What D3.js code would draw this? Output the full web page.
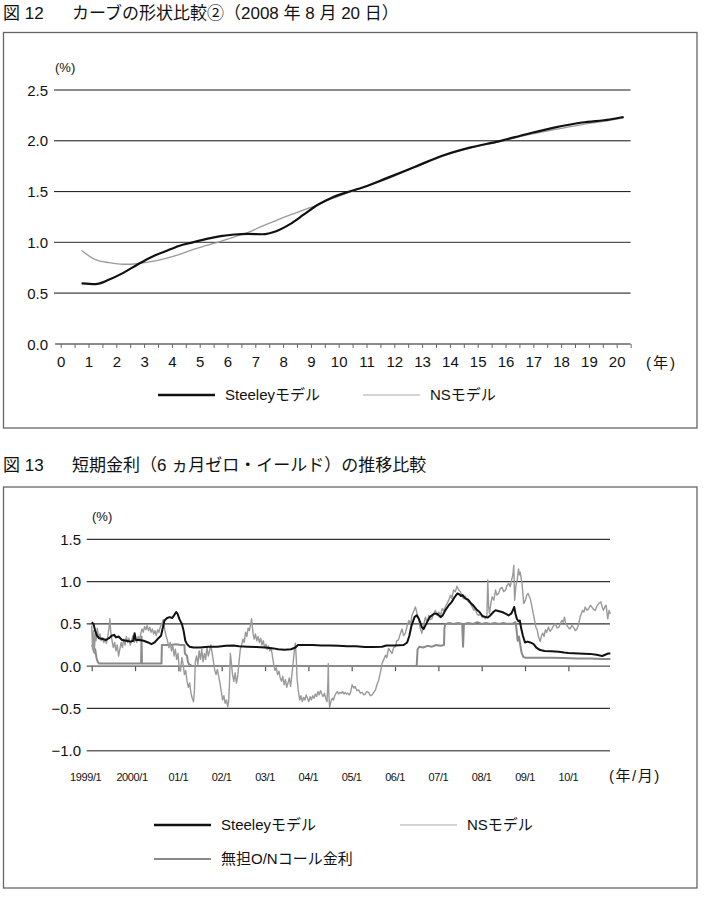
<!DOCTYPE html>
<html><head><meta charset="utf-8">
<script src="https://cdn.jsdelivr.net/npm/d3@7"></script>
<style>body{margin:0;background:#fff} svg{display:block}</style>
</head><body><svg id="c" width="704" height="903"></svg>
<script>
// ---------------- Chart 1 data (図12) ----------------
const tenors = [0.75,1.25,1.75,2.25,2.75,3.25,3.75,4.25,4.75,5.25,5.75,6.25,6.75,7.25,7.75,8.25,8.75,9.25,9.75,10.25,10.75,11.75,12.75,13.75,14.75,15.75,16.75,17.75,18.75,19.75,20.25];
const steeleyCurve = [0.597,0.59,0.635,0.70,0.78,0.855,0.91,0.965,1.0,1.035,1.062,1.078,1.083,1.08,1.11,1.18,1.275,1.37,1.44,1.49,1.53,1.635,1.745,1.855,1.935,1.995,2.065,2.13,2.18,2.21,2.234];
const nsCurve      = [0.92,0.83,0.80,0.785,0.79,0.81,0.84,0.88,0.93,0.97,1.01,1.055,1.10,1.16,1.215,1.27,1.32,1.37,1.43,1.48,1.53,1.625,1.74,1.85,1.93,1.99,2.055,2.11,2.16,2.20,2.225];
const yTicks1 = [0,0.5,1,1.5,2,2.5];
const xTicks1 = d3.range(0,20.51,0.5);

// ---------------- Chart 2 data (図13) ----------------
const dateTicks = [1999,2000,2001,2002,2003,2004,2005,2006,2007,2008,2009,2010];
const dateTickLabels = ["1999/1","2000/1","01/1","02/1","03/1","04/1","05/1","06/1","07/1","08/1","09/1","10/1"];
const yTicks2 = [-1,-0.5,0,0.5,1,1.5];

const steeleyShort = [[1999.00,0.52],[1999.04,0.50],[1999.08,0.42],[1999.12,0.36],[1999.17,0.33],[1999.25,0.32],[1999.33,0.31],[1999.40,0.33],[1999.46,0.36],[1999.52,0.37],[1999.56,0.34],[1999.62,0.35],[1999.70,0.31],[1999.80,0.30],[1999.90,0.29],[1999.96,0.30],[1999.99,0.39],[2000.02,0.31],[2000.10,0.31],[2000.20,0.30],[2000.30,0.28],[2000.38,0.26],[2000.45,0.28],[2000.52,0.32],[2000.60,0.36],[2000.64,0.45],[2000.68,0.54],[2000.74,0.57],[2000.80,0.58],[2000.86,0.57],[2000.90,0.60],[2000.95,0.64],[2000.98,0.62],[2001.03,0.55],[2001.08,0.50],[2001.12,0.42],[2001.16,0.30],[2001.20,0.26],[2001.26,0.23],[2001.35,0.22],[2001.50,0.22],[2001.70,0.23],[2001.90,0.23],[2002.10,0.24],[2002.27,0.245],[2002.40,0.235],[2002.60,0.23],[2002.80,0.225],[2003.00,0.22],[2003.20,0.21],[2003.30,0.20],[2003.45,0.195],[2003.60,0.20],[2003.70,0.22],[2003.76,0.25],[2003.90,0.25],[2004.10,0.25],[2004.30,0.245],[2004.50,0.245],[2004.70,0.24],[2004.90,0.235],[2005.10,0.235],[2005.30,0.225],[2005.50,0.225],[2005.70,0.23],[2005.80,0.245],[2006.00,0.245],[2006.20,0.25],[2006.28,0.28],[2006.33,0.36],[2006.38,0.48],[2006.45,0.58],[2006.50,0.60],[2006.55,0.56],[2006.62,0.46],[2006.66,0.44],[2006.72,0.50],[2006.80,0.58],[2006.90,0.62],[2006.97,0.62],[2007.05,0.58],[2007.10,0.60],[2007.16,0.66],[2007.24,0.72],[2007.31,0.76],[2007.38,0.82],[2007.44,0.86],[2007.48,0.85],[2007.52,0.83],[2007.56,0.84],[2007.62,0.80],[2007.68,0.79],[2007.74,0.75],[2007.80,0.72],[2007.88,0.67],[2007.95,0.64],[2008.02,0.59],[2008.09,0.58],[2008.14,0.575],[2008.20,0.60],[2008.27,0.64],[2008.32,0.66],[2008.40,0.65],[2008.47,0.64],[2008.55,0.62],[2008.62,0.60],[2008.68,0.62],[2008.72,0.66],[2008.75,0.70],[2008.78,0.62],[2008.81,0.56],[2008.85,0.53],[2008.88,0.54],[2008.91,0.45],[2008.95,0.36],[2009.00,0.28],[2009.06,0.29],[2009.12,0.28],[2009.20,0.26],[2009.26,0.22],[2009.35,0.19],[2009.45,0.18],[2009.60,0.175],[2009.78,0.17],[2009.90,0.16],[2010.00,0.155],[2010.24,0.15],[2010.50,0.145],[2010.65,0.135],[2010.78,0.12],[2010.85,0.135],[2010.92,0.15],[2010.97,0.15]];

const nsShort = [[1999.00,0.48],[1999.02,0.20],[1999.04,0.42],[1999.06,0.15],[1999.08,0.38],[1999.10,0.30],[1999.13,0.45],[1999.16,0.33],[1999.19,0.38],[1999.22,0.30],[1999.25,0.34],[1999.28,0.28],[1999.31,0.32],[1999.34,0.27],[1999.37,0.35],[1999.40,0.45],[1999.42,0.56],[1999.44,0.40],[1999.47,0.30],[1999.50,0.22],[1999.53,0.28],[1999.56,0.18],[1999.59,0.25],[1999.62,0.12],[1999.65,0.20],[1999.68,0.28],[1999.71,0.22],[1999.74,0.32],[1999.77,0.25],[1999.80,0.35],[1999.83,0.28],[1999.86,0.33],[1999.89,0.25],[1999.92,0.30],[1999.95,0.36],[1999.98,0.28],[2000.01,0.33],[2000.04,0.28],[2000.07,0.35],[2000.10,0.30],[2000.13,0.38],[2000.16,0.44],[2000.19,0.40],[2000.22,0.47],[2000.25,0.43],[2000.28,0.48],[2000.31,0.42],[2000.34,0.46],[2000.37,0.40],[2000.40,0.44],[2000.43,0.38],[2000.46,0.42],[2000.49,0.36],[2000.52,0.43],[2000.55,0.40],[2000.58,0.46],
[2000.62,0.50],[2000.65,0.55],[2000.69,0.42],[2000.72,0.35],[2000.75,0.30],[2000.78,0.22],[2000.81,0.28],[2000.84,0.18],[2000.87,0.25],[2000.90,0.12],[2000.93,0.20],[2000.96,0.08],[2000.99,0.15],[2001.02,-0.02],[2001.05,-0.06],[2001.08,0.10],[2001.11,0.02],[2001.14,-0.10],[2001.17,-0.05],[2001.20,-0.18],[2001.23,-0.25],[2001.26,-0.20],[2001.29,-0.32],[2001.32,-0.38],[2001.35,-0.42],[2001.37,-0.30],[2001.39,0.05],[2001.42,0.12],[2001.45,0.02],[2001.48,0.18],[2001.51,0.08],[2001.54,0.20],[2001.57,0.05],[2001.60,0.15],[2001.63,0.08],[2001.66,0.22],[2001.69,0.12],[2001.72,0.18],[2001.75,0.25],[2001.78,0.15],[2001.81,0.05],[2001.84,-0.05],[2001.87,-0.10],[2001.90,-0.04],[2001.93,-0.12],[2001.96,-0.20],[2001.99,-0.30],[2002.02,-0.40],[2002.05,-0.35],[2002.08,-0.44],[2002.11,-0.40],[2002.14,-0.48],[2002.16,-0.42],[2002.18,-0.20],[2002.20,0.15],[2002.22,0.05],[2002.25,-0.10],[2002.28,-0.18],[2002.31,-0.08],[2002.34,-0.20],[2002.37,-0.12],[2002.40,0.05],[2002.43,0.20],[2002.46,0.25],[2002.49,0.32],[2002.52,0.28],[2002.55,0.40],[2002.58,0.35],[2002.61,0.45],[2002.64,0.42],[2002.67,0.50],[2002.69,0.56],[2002.72,0.40],[2002.75,0.32],[2002.78,0.38],[2002.81,0.30],[2002.84,0.35],[2002.87,0.28],[2002.90,0.33],[2002.93,0.25],[2002.96,0.30],[2002.99,0.22],[2003.02,0.26],[2003.05,0.20],[2003.08,0.24],[2003.11,0.18],[2003.14,0.22],[2003.17,0.12],[2003.20,0.02],[2003.23,-0.05],[2003.26,-0.02],[2003.29,-0.10],[2003.32,-0.06],[2003.35,-0.14],[2003.38,-0.18],[2003.41,-0.12],[2003.44,-0.22],[2003.47,-0.16],[2003.50,-0.25],[2003.53,-0.20],[2003.56,-0.14],[2003.59,-0.24],[2003.62,-0.10],[2003.65,0.05],[2003.68,0.20],[2003.70,0.27],[2003.72,0.10],[2003.74,-0.15],[2003.77,-0.30],[2003.80,-0.40],[2003.83,-0.35],[2003.86,-0.42],[2003.89,-0.37],[2003.92,-0.40],[2003.95,-0.34],[2003.98,-0.38],[2004.01,-0.42],[2004.04,-0.36],[2004.07,-0.40],[2004.10,-0.35],[2004.13,-0.38],[2004.16,-0.33],[2004.19,-0.36],[2004.22,-0.30],[2004.25,-0.34],[2004.28,-0.29],[2004.31,-0.33],[2004.34,-0.36],[2004.37,-0.32],[2004.40,-0.38],[2004.43,-0.42],[2004.45,-0.20],[2004.46,0.03],[2004.47,-0.30],[2004.49,-0.49],[2004.52,-0.42],[2004.55,-0.38],[2004.58,-0.40],[2004.61,-0.35],[2004.64,-0.32],[2004.67,-0.30],[2004.70,-0.33],[2004.73,-0.31],[2004.76,-0.32],[2004.79,-0.30],[2004.82,-0.33],[2004.85,-0.31],[2004.88,-0.33],[2004.91,-0.32],[2004.94,-0.34],[2004.97,-0.32],
[2005.01,-0.22],[2005.05,-0.26],[2005.08,-0.24],[2005.12,-0.29],[2005.16,-0.28],[2005.20,-0.32],[2005.24,-0.31],[2005.28,-0.34],[2005.31,-0.33],[2005.35,-0.30],[2005.39,-0.31],[2005.43,-0.35],[2005.47,-0.34],[2005.51,-0.31],[2005.55,-0.28],[2005.58,-0.22],[2005.62,-0.17],[2005.66,-0.08],[2005.70,0.03],[2005.74,0.08],[2005.78,0.13],[2005.81,0.10],[2005.85,0.21],[2005.89,0.18],[2005.93,0.15],[2005.97,0.22],[2006.01,0.23],[2006.04,0.30],[2006.08,0.31],[2006.12,0.38],[2006.16,0.44],[2006.20,0.36],[2006.24,0.39],[2006.28,0.48],[2006.32,0.54],[2006.36,0.50],[2006.39,0.60],[2006.43,0.65],[2006.47,0.70],[2006.51,0.62],[2006.55,0.54],[2006.58,0.45],[2006.62,0.39],[2006.66,0.48],[2006.70,0.58],[2006.74,0.52],[2006.78,0.60],[2006.81,0.55],[2006.85,0.56],[2006.89,0.62],[2006.93,0.66],[2006.97,0.60],[2007.01,0.64],[2007.05,0.60],[2007.09,0.68],[2007.12,0.66],[2007.16,0.70],[2007.20,0.74],[2007.24,0.78],[2007.28,0.84],[2007.31,0.80],[2007.35,0.90],[2007.39,0.88],[2007.43,0.945],[2007.47,0.90],[2007.51,0.88],[2007.55,0.82],[2007.58,0.80],[2007.62,0.83],[2007.66,0.78],[2007.70,0.76],[2007.74,0.74],[2007.78,0.70],[2007.82,0.66],[2007.85,0.68],[2007.89,0.62],[2007.93,0.60],[2007.97,0.62],[2008.01,0.58],[2008.05,0.60],[2008.08,0.56],[2008.12,0.60],[2008.14,1.02],[2008.16,0.70],[2008.18,0.62],[2008.21,0.74],[2008.24,0.82],[2008.28,0.78],[2008.32,0.90],[2008.35,0.84],[2008.39,0.86],[2008.43,0.92],[2008.47,0.93],[2008.51,0.88],[2008.55,0.90],[2008.58,0.95],[2008.62,0.98],[2008.66,0.94],[2008.69,1.02],[2008.72,1.08],[2008.74,1.19],[2008.76,0.78],[2008.79,0.95],[2008.82,1.02],[2008.85,1.15],[2008.87,1.08],[2008.89,1.11],[2008.93,0.98],[2008.97,0.74],[2009.01,0.78],[2009.04,0.84],[2009.07,0.86],[2009.10,0.82],[2009.12,0.80],[2009.16,0.70],[2009.19,0.62],[2009.22,0.54],[2009.25,0.46],[2009.28,0.43],[2009.31,0.35],[2009.35,0.29],[2009.38,0.36],[2009.41,0.39],[2009.44,0.35],[2009.47,0.43],[2009.50,0.40],[2009.54,0.46],[2009.58,0.41],[2009.62,0.44],[2009.66,0.48],[2009.70,0.50],[2009.74,0.45],[2009.78,0.46],[2009.82,0.51],[2009.85,0.54],[2009.88,0.52],[2009.91,0.58],[2009.94,0.50],[2009.97,0.48],[2010.01,0.45],[2010.04,0.44],[2010.08,0.48],[2010.12,0.46],[2010.16,0.42],[2010.20,0.44],[2010.24,0.50],[2010.27,0.58],[2010.30,0.62],[2010.33,0.66],[2010.36,0.64],[2010.39,0.70],[2010.43,0.66],[2010.47,0.68],[2010.51,0.72],[2010.54,0.70],[2010.58,0.67],[2010.62,0.66],[2010.66,0.71],[2010.70,0.74],[2010.75,0.76],[2010.78,0.70],[2010.81,0.66],[2010.84,0.70],[2010.87,0.72],[2010.89,0.64],[2010.91,0.56],[2010.94,0.66],[2010.97,0.62]];

const callRate = [[1999.00,0.23],[1999.03,0.25],[1999.05,0.17],[1999.08,0.20],[1999.11,0.10],[1999.14,0.05],[1999.17,0.03],[1999.50,0.03],[1999.90,0.03],[2000.14,0.03],[2000.15,0.35],[2000.16,0.03],[2000.40,0.03],[2000.61,0.03],[2000.62,0.25],[2000.80,0.25],[2000.95,0.26],[2001.05,0.25],[2001.14,0.25],[2001.15,0.15],[2001.20,0.12],[2001.22,0.05],[2001.25,0.02],[2001.30,0.005],[2002.00,0.002],[2003.00,0.002],[2004.00,0.001],[2005.00,0.001],[2006.00,0.001],[2006.50,0.002],[2006.52,0.20],[2006.56,0.23],[2006.65,0.22],[2006.75,0.24],[2006.85,0.23],[2006.95,0.25],[2007.05,0.24],[2007.13,0.25],[2007.14,0.45],[2007.16,0.50],[2007.25,0.51],[2007.35,0.50],[2007.45,0.51],[2007.55,0.50],[2007.57,0.23],[2007.59,0.50],[2007.70,0.51],[2007.80,0.50],[2007.90,0.52],[2008.00,0.50],[2008.10,0.51],[2008.20,0.50],[2008.30,0.51],[2008.40,0.50],[2008.50,0.51],[2008.60,0.50],[2008.70,0.50],[2008.78,0.52],[2008.80,0.45],[2008.83,0.30],[2008.86,0.35],[2008.89,0.25],[2008.92,0.16],[2008.96,0.11],[2009.00,0.10],[2009.30,0.10],[2009.60,0.10],[2009.90,0.095],[2010.20,0.09],[2010.50,0.09],[2010.80,0.085],[2010.97,0.085]];

// ---------------- drawing ----------------
const svg = d3.select("#c");
const FONT = '"Liberation Sans", Arial, "Noto Sans CJK JP", sans-serif';
const JP = '"Liberation Sans", "Noto Sans CJK JP", sans-serif';

function title(y, num, rest) {
  svg.append("text").attr("x", 3).attr("y", y).attr("font-family", JP).attr("font-size", 17).attr("fill", "#111").text(num);
  svg.append("text").attr("x", 72).attr("y", y).attr("font-family", JP).attr("font-size", 17).attr("fill", "#111").text(rest);
}

// ===== Chart 1 =====
title(19, "図 12", "カーブの形状比較②（2008 年 8 月 20 日）");
svg.append("rect").attr("x", 3.5).attr("y", 32.5).attr("width", 693.5).attr("height", 395.5)
  .attr("fill", "none").attr("stroke", "#666").attr("stroke-width", 1.3);

const x1 = d3.scaleLinear().domain([0, 20]).range([60.7, 616.7]);
const y1 = d3.scaleLinear().domain([0, 2.5]).range([344, 90]);
const g1 = svg.append("g");

const gridStyle1 = {0.5: ["#777", 1.8], 1: ["#555", 1.3], 1.5: ["#111", 1], 2: ["#111", 1], 2.5: ["#666", 1.3]};
yTicks1.filter(v => v > 0).forEach(v => {
  g1.append("line").attr("x1", 54).attr("x2", x1(20.5)).attr("y1", y1(v)).attr("y2", y1(v))
    .attr("stroke", gridStyle1[v][0]).attr("stroke-width", gridStyle1[v][1]);
});
yTicks1.forEach(v => {
  g1.append("text").attr("x", 48).attr("y", y1(v) + 5.5).attr("text-anchor", "end")
    .attr("font-family", FONT).attr("font-size", 15).attr("fill", "#111").text(v.toFixed(1));
});
g1.append("text").attr("x", 55).attr("y", 72).attr("font-family", FONT).attr("font-size", 13).attr("fill", "#111").text("(%)");

// x axis
const ax1 = g1.append("g").attr("transform", `translate(0,${y1(0)})`)
  .call(d3.axisBottom(x1).tickValues(xTicks1).tickSize(4).tickPadding(8)
    .tickFormat(d => Number.isInteger(d) ? d : ""));
ax1.select(".domain").remove();
ax1.selectAll(".tick line").attr("stroke", "#666").attr("stroke-width", 1);
ax1.selectAll(".tick text").attr("font-family", FONT).attr("font-size", 15).attr("fill", "#111");
g1.append("line").attr("x1", x1(-0.2)).attr("x2", x1(20.5)).attr("y1", y1(0)).attr("y2", y1(0))
  .attr("stroke", "#666").attr("stroke-width", 1.3);
g1.append("text").attr("x", 646).attr("y", 367.5).attr("font-family", JP).attr("font-size", 15).attr("letter-spacing", 2).attr("fill", "#111").text("(年)");

const curve1 = tenors.map((t, i) => ({t, s: steeleyCurve[i], n: nsCurve[i]}));
const line1 = key => d3.line().x(d => x1(d.t)).y(d => y1(d[key])).curve(d3.curveMonotoneX);
g1.append("path").datum(curve1).attr("d", line1("n")).attr("fill", "none").attr("stroke", "#9a9a9a").attr("stroke-width", 1.3);
g1.append("path").datum(curve1).attr("d", line1("s")).attr("fill", "none").attr("stroke", "#111").attr("stroke-width", 2.2);

// legend
function legendItem(g, xl, y, color, w, label) {
  g.append("line").attr("x1", xl).attr("x2", xl + 57).attr("y1", y).attr("y2", y).attr("stroke", color).attr("stroke-width", w);
  g.append("text").attr("x", xl + 67).attr("y", y + 5).attr("font-family", JP).attr("font-size", 15).attr("fill", "#111").text(label);
}
legendItem(g1, 158, 395, "#111", 2.6, "Steeleyモデル");
legendItem(g1, 363, 395, "#aaa", 1.2, "NSモデル");

// ===== Chart 2 =====
title(471, "図 13", "短期金利（6 ヵ月ゼロ・イールド）の推移比較");
svg.append("rect").attr("x", 3.5).attr("y", 487).attr("width", 693.5).attr("height", 401)
  .attr("fill", "none").attr("stroke", "#666").attr("stroke-width", 1.3);

const x2 = d3.scaleLinear().domain([1999, 2011]).range([91.7, 611.7]);
const y2 = d3.scaleLinear().domain([-1, 1.5]).range([750.7, 539.3]);
const g2 = svg.append("g");

yTicks2.filter(v => v !== 0).forEach(v => {
  g2.append("line").attr("x1", 86.7).attr("x2", 610).attr("y1", y2(v)).attr("y2", y2(v))
    .attr("stroke", v === -1 ? "#666" : "#333").attr("stroke-width", v === -1 ? 1.6 : 1.2);
});
yTicks2.forEach(v => {
  g2.append("text").attr("x", 81).attr("y", y2(v) + 5.5).attr("text-anchor", "end")
    .attr("font-family", FONT).attr("font-size", 15).attr("fill", "#111")
    .text((v < 0 ? "\u2212" : "") + Math.abs(v).toFixed(1));
});
g2.append("text").attr("x", 92).attr("y", 521).attr("font-family", FONT).attr("font-size", 13).attr("fill", "#111").text("(%)");

const ax2 = g2.append("g").attr("transform", `translate(0,${y2(0)})`)
  .call(d3.axisBottom(x2).tickValues(dateTicks).tickSize(5).tickPadding(0).tickFormat(() => ""));
ax2.select(".domain").remove();
ax2.selectAll(".tick line").attr("stroke", "#555").attr("stroke-width", 1.2);
g2.append("line").attr("x1", 86.7).attr("x2", 610).attr("y1", y2(0)).attr("y2", y2(0)).attr("stroke", "#555").attr("stroke-width", 1.3);

dateTicks.forEach((d, i) => {
  const lbl = dateTickLabels[i];
  const nudge = lbl.length > 5 ? (i === 0 ? -6 : -3) : 0;
  g2.append("text").attr("x", x2(d) + nudge).attr("y", 781).attr("text-anchor", "middle")
    .attr("font-family", FONT).attr("font-size", 11).attr("letter-spacing", -0.4).attr("fill", "#111").text(lbl);
});
g2.append("text").attr("x", 609).attr("y", 780.5).attr("font-family", JP).attr("font-size", 15).attr("letter-spacing", 1.5).attr("fill", "#111").text("(年/月)");

const line2 = d3.line().x(d => x2(d[0])).y(d => y2(d[1]));
g2.append("path").datum(callRate).attr("d", line2).attr("fill", "none").attr("stroke", "#8a8a8a").attr("stroke-width", 2).attr("stroke-linejoin", "round");
g2.append("path").datum(nsShort).attr("d", line2).attr("fill", "none").attr("stroke", "#999").attr("stroke-width", 1.4).attr("stroke-linejoin", "round");
g2.append("path").datum(steeleyShort).attr("d", line2).attr("fill", "none").attr("stroke", "#111").attr("stroke-width", 2).attr("stroke-linejoin", "round");

legendItem(g2, 154, 825, "#111", 2.6, "Steeleyモデル");
legendItem(g2, 400, 825, "#aaa", 1.2, "NSモデル");
legendItem(g2, 154, 859, "#8a8a8a", 2.2, "無担O/Nコール金利");
</script></body></html>
